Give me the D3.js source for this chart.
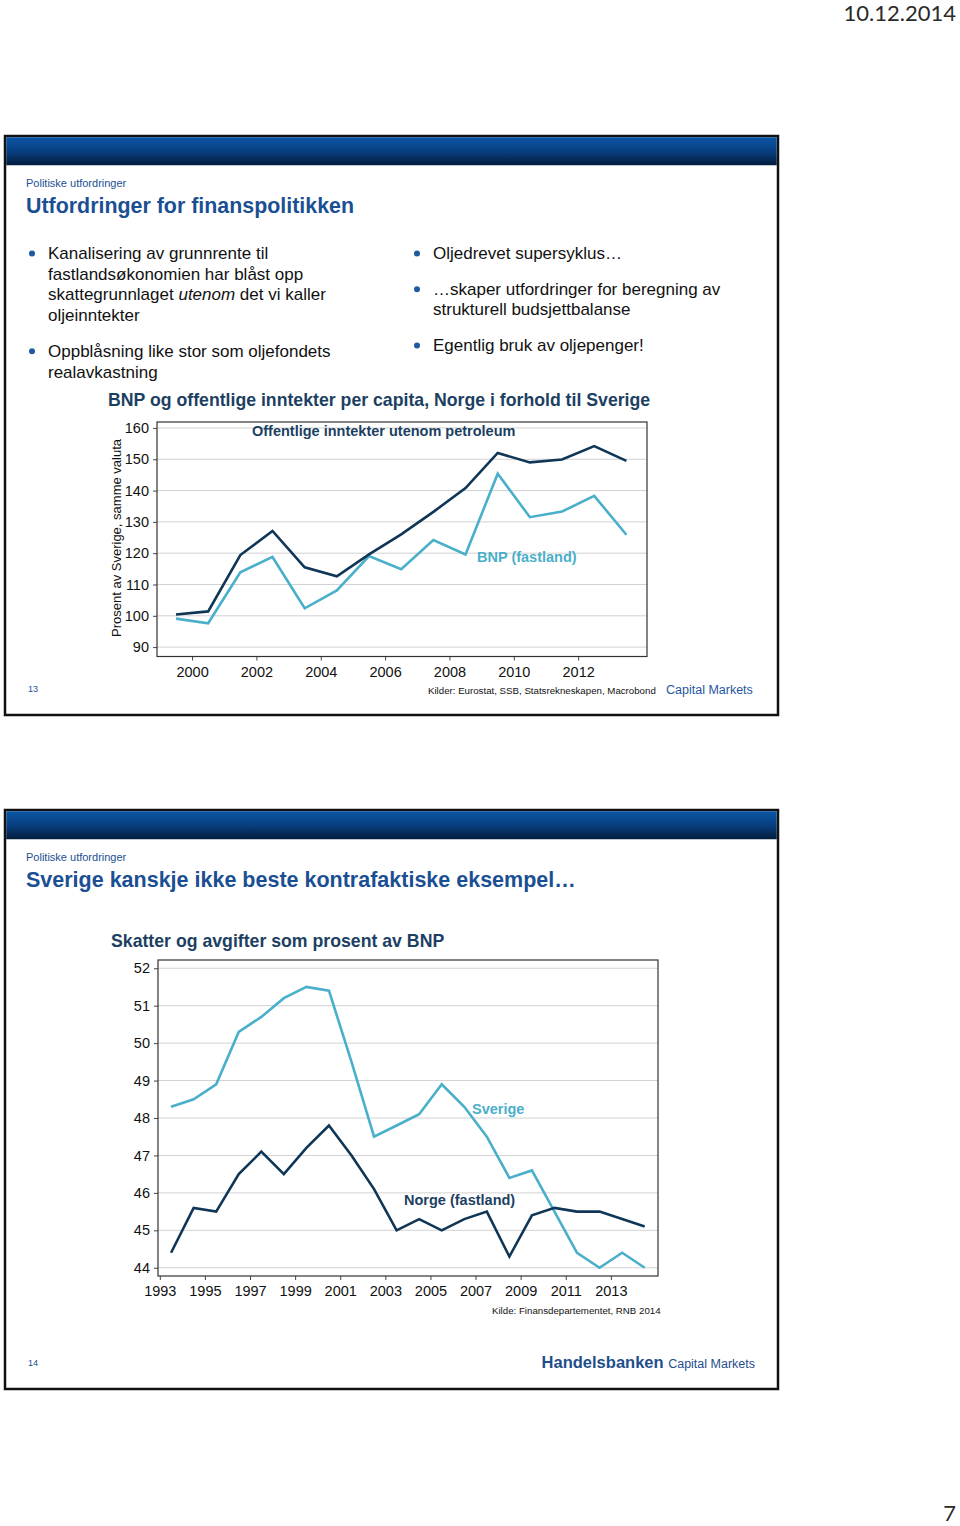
<!DOCTYPE html>
<html>
<head>
<meta charset="utf-8">
<script src="https://cdn.jsdelivr.net/npm/d3@7"></script>
<style>
	html, body { margin: 0; padding: 0; background: #fff; }
	svg { display: block; }
	text { font-family: 'Liberation Sans', Arial, sans-serif; }
</style>
</head>
<body>
<div id="canvas"></div>
<script>
// --- chart 1: BNP og offentlige inntekter per capita, Norge i forhold til Sverige
const years1 = [1999, 2000, 2001, 2002, 2003, 2004, 2005, 2006, 2007, 2008, 2009, 2010, 2011, 2012, 2013];
const offentlige = [100.4, 101.4, 119.4, 127.1, 115.5, 112.6, 119.6, 126.0, 133.2, 140.8, 152.0, 149.0, 149.9, 154.2, 149.5];
const bnpFastland = [99.1, 97.6, 113.9, 118.8, 102.4, 108.1, 119.1, 114.9, 124.2, 119.6, 145.4, 131.5, 133.3, 138.3, 125.9];
const yTicks1 = [90, 100, 110, 120, 130, 140, 150, 160];
const xTicks1 = [2000, 2002, 2004, 2006, 2008, 2010, 2012];

// --- chart 2: Skatter og avgifter som prosent av BNP
const years2 = [1993, 1994, 1995, 1996, 1997, 1998, 1999, 2000, 2001, 2002, 2003, 2004, 2005, 2006, 2007, 2008, 2009, 2010, 2011, 2012, 2013, 2014];
const sverige = [48.3, 48.5, 48.9, 50.3, 50.7, 51.2, 51.5, 51.4, 49.5, 47.5, 47.8, 48.1, 48.9, 48.3, 47.5, 46.4, 46.6, 45.5, 44.4, 44.0, 44.4, 44.0];
const norge = [44.4, 45.6, 45.5, 46.5, 47.1, 46.5, 47.2, 47.8, 47.0, 46.1, 45.0, 45.3, 45.0, 45.3, 45.5, 44.3, 45.4, 45.6, 45.5, 45.5, 45.3, 45.1];
const yTicks2 = [44, 45, 46, 47, 48, 49, 50, 51, 52];
const xTicks2 = [1993, 1995, 1997, 1999, 2001, 2003, 2005, 2007, 2009, 2011, 2013];

const bullets1 = [
	[['Kanalisering av grunnrente til'], ['fastlandsøkonomien har blåst opp'], ['skattegrunnlaget ', '*utenom', ' det vi kaller'], ['oljeinntekter']],
	[['Oppblåsning like stor som oljefondets'], ['realavkastning']]
];
const bullets2 = [
	[['Oljedrevet supersyklus…']],
	[['…skaper utfordringer for beregning av'], ['strukturell budsjettbalanse']],
	[['Egentlig bruk av oljepenger!']]
];

const DARK = '#0f3656';
const LIGHT = '#4aafca';
const BLUE = '#1b4f93';
const NAVY = '#1c3f62';

const svg = d3.select('#canvas').append('svg')
	.attr('width', 960)
	.attr('height', 1526)
	.attr('viewBox', [0, 0, 960, 1526]);

const grad = svg.append('defs').append('linearGradient')
	.attr('id', 'band')
	.attr('x1', 0).attr('x2', 0).attr('y1', 0).attr('y2', 1);
grad.append('stop').attr('offset', '0%').attr('stop-color', '#0c56a6');
grad.append('stop').attr('offset', '50%').attr('stop-color', '#083f80');
grad.append('stop').attr('offset', '100%').attr('stop-color', '#041c3c');

// page date + page number
svg.append('text')
	.attr('x', 956).attr('y', 21)
	.attr('text-anchor', 'end')
	.style('font-family', "Lato, 'Open Sans', sans-serif")
	.style('font-size', '22px')
	.style('fill', '#2a2a2a')
	.text('10.12.2014');
svg.append('text')
	.attr('x', 956).attr('y', 1521)
	.attr('text-anchor', 'end')
	.style('font-family', "Lato, 'Open Sans', sans-serif")
	.style('font-size', '22px')
	.style('fill', '#2a2a2a')
	.text('7');

function drawSlide (kwargs) {
	const { top, number, title, titleSize } = kwargs;
	const g = svg.append('g').attr('transform', `translate(0,${top})`);

	g.append('rect')
		.attr('x', 5).attr('y', 1)
		.attr('width', 773).attr('height', 579)
		.style('fill', '#fff')
		.style('stroke', '#111')
		.style('stroke-width', 2.5);
	g.append('rect')
		.attr('x', 6.25).attr('y', 2.25)
		.attr('width', 770.5).attr('height', 28)
		.style('fill', 'url(#band)');

	g.append('text')
		.attr('x', 26).attr('y', 52)
		.style('font-size', '11px')
		.style('fill', BLUE)
		.text('Politiske utfordringer');
	g.append('text')
		.attr('x', 26).attr('y', 78)
		.style('font-size', `${titleSize}px`)
		.style('font-weight', 'bold')
		.style('fill', BLUE)
		.text(title);
	g.append('text')
		.attr('x', 28).attr('y', 557)
		.style('font-size', '9px')
		.style('fill', BLUE)
		.text(number);
	return g;
}

function drawBullets (g, items, x, y0, lineH, gap) {
	let y = y0;
	items.forEach(item => {
		g.append('circle')
			.attr('cx', x - 16).attr('cy', y - 5.5)
			.attr('r', 3)
			.style('fill', '#1f5aa0');
		item.forEach(line => {
			const t = g.append('text')
				.attr('x', x).attr('y', y)
				.style('font-size', '17px')
				.style('fill', '#111');
			line.forEach(part => {
				const italic = part.startsWith('*');
				t.append('tspan')
					.style('font-style', italic ? 'italic' : 'normal')
					.text(italic ? part.slice(1) : part);
			});
			y += lineH;
		});
		y += gap;
	});
}

function drawChart (kwargs) {
	const { g, box, xDomain, yDomain, xTicks, yTicks, series, labels } = kwargs;
	const [x0, y0, x1, y1] = box;

	const x = d3.scaleLinear().domain(xDomain).range([x0, x1]);
	const y = d3.scaleLinear().domain(yDomain).range([y1, y0]);

	g.append('g')
		.selectAll('line')
		.data(yTicks)
		.join('line')
		.attr('x1', x0).attr('x2', x1)
		.attr('y1', d => y(d)).attr('y2', d => y(d))
		.style('stroke', '#d2d2d2')
		.style('stroke-width', 1);

	const yAxis = g.append('g')
		.attr('transform', `translate(${x0},0)`)
		.call(d3.axisLeft(y).tickValues(yTicks).tickSize(4).tickPadding(4));
	const xAxis = g.append('g')
		.attr('transform', `translate(0,${y1})`)
		.call(d3.axisBottom(x).tickValues(xTicks).tickFormat(d3.format('d')).tickSize(4).tickPadding(6));
	[yAxis, xAxis].forEach(a => {
		a.select('.domain').remove();
		a.selectAll('line').style('stroke', '#444');
		a.selectAll('text')
			.style('font-family', "'Liberation Sans', Arial, sans-serif")
			.style('font-size', '14.5px')
			.style('fill', '#111');
	});

	g.append('rect')
		.attr('x', x0).attr('y', y0)
		.attr('width', x1 - x0).attr('height', y1 - y0)
		.style('fill', 'none')
		.style('stroke', '#333')
		.style('stroke-width', 1.2);

	// annual values sit mid-year
	const line = d3.line()
		.x(d => x(d.year + 0.5))
		.y(d => y(d.value));

	series.forEach(s => {
		g.append('path')
			.datum(s.years.map((yr, i) => ({ year: yr, value: s.values[i] })))
			.attr('d', line)
			.style('fill', 'none')
			.style('stroke', s.color)
			.style('stroke-width', 2.6)
			.style('stroke-linejoin', 'miter');
	});

	labels.forEach(l => {
		g.append('text')
			.attr('x', l.x).attr('y', l.y)
			.style('font-size', '14.5px')
			.style('font-weight', 'bold')
			.style('fill', l.color)
			.text(l.text);
	});
	return { x, y };
}

// ---------- slide 13
const s1 = drawSlide({ top: 135, number: '13', title: 'Utfordringer for finanspolitikken', titleSize: 21.4 });
drawBullets(s1, bullets1, 48, 124, 20.7, 15);
drawBullets(s1, bullets2, 433, 124, 20.7, 15);

s1.append('text')
	.attr('x', 108).attr('y', 271)
	.style('font-size', '17.7px')
	.style('font-weight', 'bold')
	.style('fill', NAVY)
	.text('BNP og offentlige inntekter per capita, Norge i forhold til Sverige');

s1.append('text')
	.attr('transform', 'translate(121,403) rotate(-90)')
	.attr('text-anchor', 'middle')
	.style('font-size', '13px')
	.style('fill', '#111')
	.text('Prosent av Sverige, samme valuta');

drawChart({
	g: s1,
	box: [157, 287, 647, 521.5],
	xDomain: [1998.91, 2014.14],
	yDomain: [87, 161.9],
	xTicks: xTicks1,
	yTicks: yTicks1,
	series: [
		{ years: years1, values: bnpFastland, color: LIGHT },
		{ years: years1, values: offentlige, color: DARK }
	],
	labels: [
		{ text: 'Offentlige inntekter utenom petroleum', x: 252, y: 301, color: NAVY },
		{ text: 'BNP (fastland)', x: 477, y: 427, color: LIGHT }
	]
});

s1.append('text')
	.attr('x', 428).attr('y', 559)
	.style('font-size', '9.7px')
	.style('fill', '#111')
	.text('Kilder: Eurostat, SSB, Statsrekneskapen, Macrobond');
s1.append('text')
	.attr('x', 666).attr('y', 559)
	.style('font-size', '12.5px')
	.style('fill', '#1f56a0')
	.text('Capital Markets');

// ---------- slide 14
const s2 = drawSlide({ top: 809, number: '14', title: 'Sverige kanskje ikke beste kontrafaktiske eksempel…', titleSize: 21.5 });

s2.append('text')
	.attr('x', 111).attr('y', 138)
	.style('font-size', '17.7px')
	.style('font-weight', 'bold')
	.style('fill', NAVY)
	.text('Skatter og avgifter som prosent av BNP');

drawChart({
	g: s2,
	box: [158, 151, 658, 467],
	xDomain: [1992.92, 2015.09],
	yDomain: [43.78, 52.22],
	xTicks: xTicks2,
	yTicks: yTicks2,
	series: [
		{ years: years2, values: sverige, color: LIGHT },
		{ years: years2, values: norge, color: DARK }
	],
	labels: [
		{ text: 'Sverige', x: 472, y: 305, color: LIGHT },
		{ text: 'Norge (fastland)', x: 404, y: 396, color: NAVY }
	]
});

s2.append('text')
	.attr('x', 492).attr('y', 505)
	.style('font-size', '9.7px')
	.style('fill', '#111')
	.text('Kilde: Finansdepartementet, RNB 2014');

const hb = s2.append('text')
	.attr('x', 755).attr('y', 559)
	.attr('text-anchor', 'end')
	.style('fill', '#1f4e8c');
hb.append('tspan').style('font-size', '16.5px').style('font-weight', 'bold').text('Handelsbanken ');
hb.append('tspan').style('font-size', '12.5px').text('Capital Markets');
</script>
</body>
</html>
